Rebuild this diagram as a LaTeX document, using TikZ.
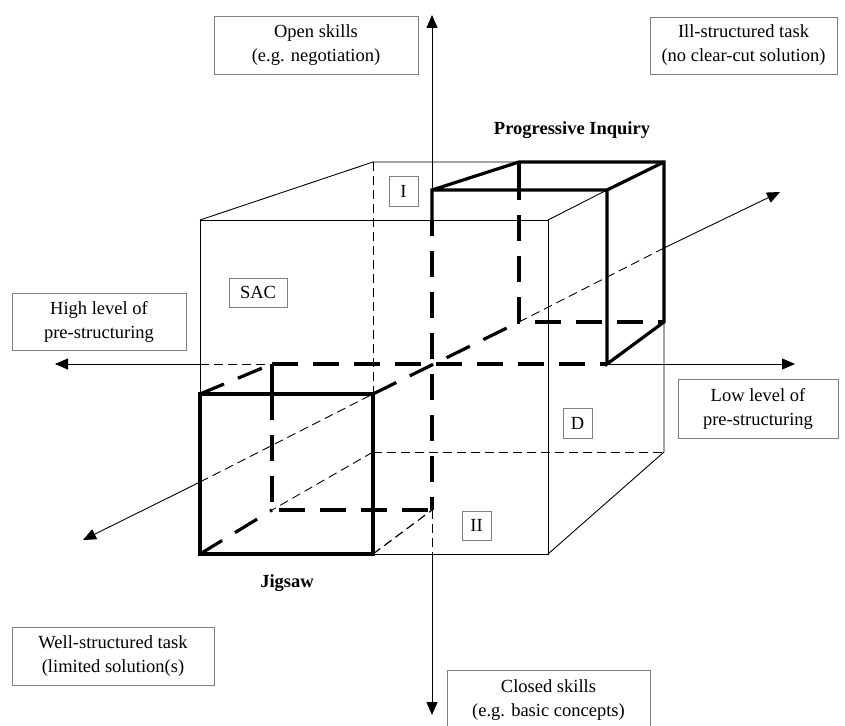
\documentclass[tikz,border=0pt]{standalone}
\usepackage{fontspec}
\setmainfont{Liberation Serif}
\usetikzlibrary{arrows.meta}
\begin{document}
\begin{tikzpicture}[x=1pt,y=-1pt,
  thinln/.style={line width=0.9pt,black},
  thinds/.style={line width=0.9pt,black,dash pattern=on 9pt off 5pt},
  thickln/.style={line width=3.2pt,black,line join=miter},
  thickds/.style={line width=3.2pt,black,dash pattern=on 26pt off 15pt},
  arr/.style={-{Triangle[length=13pt,width=11pt]}},
  txt/.style={font=\fontsize{18.5}{24}\selectfont,align=center,inner sep=0pt},
  btxt/.style={font=\fontsize{18.5}{24}\selectfont\bfseries,inner sep=0pt},
  lbox/.style={txt,draw=black!50,line width=0.8pt}]
\useasboundingbox (0,0) rectangle (845,725);
\clip (0,0) rectangle (845,725);
% big cube
\coordinate (F1) at (200,220); \coordinate (F2) at (548,220);
\coordinate (F3) at (548,554); \coordinate (F4) at (200,554);
\coordinate (B1) at (373,162); \coordinate (B2) at (664,162);
\coordinate (B3) at (664,452); \coordinate (B4) at (373,452);
% jigsaw cube
\coordinate (J1) at (200,394); \coordinate (J2) at (373,394);
\coordinate (J3) at (373,554); \coordinate (J4) at (200,554);
\coordinate (K1) at (272,364); \coordinate (K2) at (432,364);
\coordinate (K3) at (432,510); \coordinate (K4) at (272,510);
\coordinate (K1b) at (272,394);
% progressive inquiry cube
\coordinate (P1) at (432,190); \coordinate (P2) at (607,190);
\coordinate (P3) at (607,364);
\coordinate (Q1) at (519,162); \coordinate (Q2) at (664,162);
\coordinate (Q3) at (664,322); \coordinate (Q4) at (519,322);
\coordinate (Q1b) at (519,190);
% axes
\coordinate (vt) at (432,15); \coordinate (vb) at (432,715);
\coordinate (vF) at (432,220); \coordinate (vb0) at (432,554);
\coordinate (hl) at (55,364); \coordinate (hr) at (795,364);
\coordinate (hF) at (200,364);
\coordinate (dl) at (83,540); \coordinate (dr) at (780,192);
\coordinate (dF) at (200,482); \coordinate (dB) at (664,248);

% thin solid cube lines
\draw[thinln] (J1) -- (F1) -- (F2) -- (F3) -- (J3);
\draw[thinln] (F1) -- (B1) -- (B2) -- (B3) -- (F3);
\draw[thinln] (F2) -- (P2);
% thin dashed hidden lines
\draw[thinds] (B1) -- (J2);
\draw[thinds] (B4) -- (B3);
\draw[thinds] (B4) -- (K4);
\draw[thinds] (hF) -- (K1);
\draw[thinds] (dF) -- (J2);
\draw[thinds] (Q4) -- (dB);
\draw[thinds] (K3) -- (vb0);
\draw[thinds,line width=1.2pt] (J3) -- (K3);
% axes
\draw[thinln,arr] (P1) -- (vt);
\draw[thinln,arr] (vb0) -- (vb);
\draw[thinln,arr] (hF) -- (hl);
\draw[thinln,arr] (P3) -- (hr);
\draw[thinln,arr] (dF) -- (dl);
\draw[thinln,arr] (dB) -- (dr);
% thick dashed
\draw[thickds,dash phase=10pt] (vF) -- (K3);
\draw[thickds] (K1) -- (P3);
\draw[thickds] (J2) -- (Q4);
\draw[thickds] (K1b) -- (K4) -- (K3);
\draw[thickds] (J1) -- (K1);
\draw[thickds] (J4) -- (K4);
\draw[thickds,dash phase=16pt] (Q1b) -- (Q4) -- (Q3);
% thick solid
\draw[thickln] (J1) rectangle (J3);
\draw[thickln] (K1) -- (K1b);
\draw[thickln] (vF) -- (P1) -- (P2) -- (P3) -- (Q3) -- (Q2) -- (Q1) -- (P1);
\draw[thickln] (P2) -- (Q2);
\draw[thickln] (Q1) -- (Q1b);

% labels
\node[lbox,minimum width=204pt,minimum height=58pt] (open) at (316,45) {Open skills\\(e.g. negotiation)};
\node[lbox,minimum width=187pt,minimum height=57pt] (ill) at (743.5,45.5) {Ill-structured task\\(no clear-cut solution)};
\node[lbox,minimum width=174pt,minimum height=57pt] (high) at (99,321.5) {High level of\\pre-structuring};
\node[lbox,minimum width=160pt,minimum height=59pt] (low) at (758,408.5) {Low level of\\pre-structuring};
\node[lbox,minimum width=202pt,minimum height=58pt] (well) at (113,656) {Well-structured task\\(limited solution(s)};
\node[lbox,minimum width=203pt,minimum height=60pt] (closed) at (548.5,700) {Closed skills\\(e.g. basic concepts)};
\node[lbox,minimum width=29pt,minimum height=30pt] (qI) at (403.5,191) {I};
\node[lbox,minimum width=58pt,minimum height=29pt] (qSAC) at (258,292.5) {SAC};
\node[lbox,minimum width=29pt,minimum height=30pt] (qD) at (577.5,423) {D};
\node[lbox,minimum width=29pt,minimum height=29pt] (qII) at (476.5,525.5) {II};
\node[btxt] (pi) at (572,130) {Progressive Inquiry};
\node[btxt] (jig) at (287,583) {Jigsaw};
\end{tikzpicture}
\end{document}
